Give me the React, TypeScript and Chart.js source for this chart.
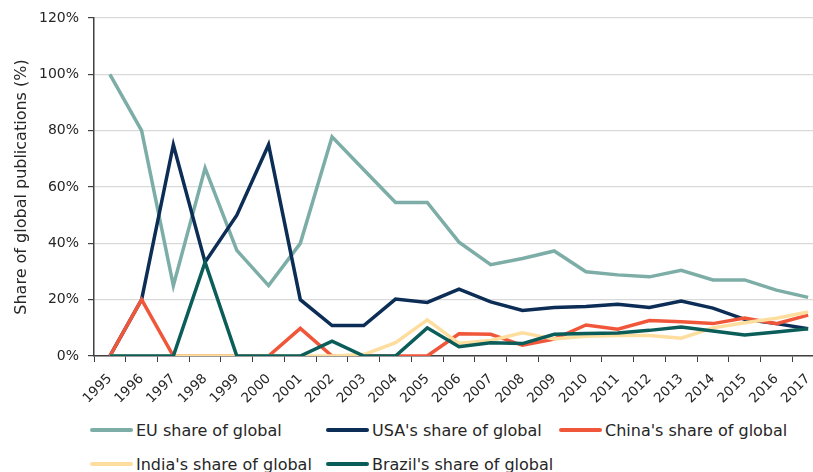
import React, { useEffect, useRef } from "react";
import { Chart, registerables } from "chart.js";

Chart.register(...registerables);

const years = ["1995","1996","1997","1998","1999","2000","2001","2002","2003","2004","2005","2006","2007","2008","2009","2010","2011","2012","2013","2014","2015","2016","2017"];
const euShare = [100, 80, 25, 66.7, 37.5, 25, 40, 77.8, 66.1, 54.5, 54.5, 40.4, 32.4, 34.6, 37.3, 29.9, 28.8, 28.1, 30.4, 27, 27, 23.4, 20.8];
const usaShare = [0, 20, 75, 33.3, 50, 75, 20, 10.8, 10.8, 20.2, 19, 23.7, 19.2, 16.2, 17.2, 17.6, 18.4, 17.2, 19.5, 17, 13, 11.5, 9.7];
const chinaShare = [0, 20, 0, 0, 0, 0, 9.8, 0, 0, 0, 0, 7.9, 7.7, 3.8, 6, 11, 9.5, 12.6, 12.2, 11.5, 13.5, 11.5, 14.5];
const indiaShare = [0, 0, 0, 0, 0, 0, 0, 0, 0.5, 4.7, 12.8, 4.5, 5.5, 8.2, 6, 7, 7.3, 7.3, 6.3, 10, 11.8, 13.4, 15.6];
const brazilShare = [0, 0, 0, 33.3, 0, 0, 0, 5.3, 0, 0, 10, 3.3, 4.7, 4.4, 7.7, 8, 8.2, 9.1, 10.3, 8.9, 7.5, 8.5, 9.7];
const seriesNames = ["EU share of global", "USA's share of global", "China's share of global", "India's share of global", "Brazil's share of global"];
const seriesColors = ["#7DADA7", "#0B2D56", "#F0573A", "#FDDE9E", "#0A5D59"];

const FONT = "'DejaVu Sans', Verdana, sans-serif";
const CANVAS_H = 420;
const PLOT_BOTTOM = 356;

export default function App() {
  const ref = useRef<HTMLCanvasElement | null>(null);

  useEffect(() => {
    if (!ref.current) return;
    const values = [euShare, usaShare, chinaShare, indiaShare, brazilShare];
    const chart = new Chart(ref.current, {
      type: "line",
      data: {
        labels: years,
        datasets: values.map((v, i) => ({
          label: seriesNames[i],
          data: v,
          borderColor: seriesColors[i],
          backgroundColor: seriesColors[i],
          borderWidth: 3.5,
          pointRadius: 0,
          tension: 0,
          fill: false,
          order: 5 - i,
        })),
      },
      options: {
        responsive: false,
        animation: false,
        devicePixelRatio: 1,
        layout: { padding: { top: 18, right: 6, left: 0, bottom: 0 } },
        plugins: { legend: { display: false }, tooltip: { enabled: false } },
        scales: {
          x: {
            type: "category",
            offset: true,
            grid: {
              offset: true,
              drawOnChartArea: false,
              drawTicks: true,
              tickLength: 6,
              tickColor: "#404040",
            },
            border: { color: "#404040", width: 1.5 },
            ticks: {
              autoSkip: false,
              minRotation: 45,
              maxRotation: 45,
              color: "#262626",
              font: { family: FONT, size: 13.5 },
              padding: 9,
            },
            afterFit: (s: any) => {
              s.height = CANVAS_H - PLOT_BOTTOM;
            },
          },
          y: {
            min: 0,
            max: 120,
            ticks: {
              stepSize: 20,
              color: "#262626",
              padding: 9,
              font: { family: FONT, size: 14 },
              callback: (v: any) => v + "%",
            },
            grid: {
              color: "#D9D9D9",
              lineWidth: 1.2,
              tickLength: 6,
              tickColor: "#404040",
            },
            border: { color: "#404040", width: 1.5 },
            title: {
              display: true,
              text: "Share of global publications (%)",
              color: "#262626",
              font: { family: FONT, size: 16 },
              padding: { top: 12, bottom: 0 },
            },
            afterFit: (s: any) => {
              s.width = 94;
            },
          },
        },
      },
    });
    return () => chart.destroy();
  }, []);

  const legendPos = [
    { x: 90, y: 430 },
    { x: 326, y: 430 },
    { x: 559, y: 430 },
    { x: 90, y: 464 },
    { x: 326, y: 464 },
  ];

  return (
    <div
      style={{
        position: "fixed",
        left: 0,
        top: 0,
        width: 813,
        height: 472,
        overflow: "hidden",
        background: "#ffffff",
      }}
    >
      <canvas ref={ref} width={830} height={CANVAS_H} style={{ display: "block", width: 830, height: CANVAS_H }} />
      {seriesNames.map((name, i) => (
        <div
          key={name}
          style={{
            position: "absolute",
            left: legendPos[i].x,
            top: legendPos[i].y - 10,
            height: 20,
            display: "flex",
            alignItems: "center",
            whiteSpace: "nowrap",
            fontFamily: FONT,
            fontSize: 16,
            color: "#262626",
          }}
        >
          <span
            style={{
              display: "inline-block",
              width: 43,
              height: 4,
              background: seriesColors[i],
              borderRadius: 2,
              marginRight: 3,
            }}
          />
          <span>{name}</span>
        </div>
      ))}
    </div>
  );
}
